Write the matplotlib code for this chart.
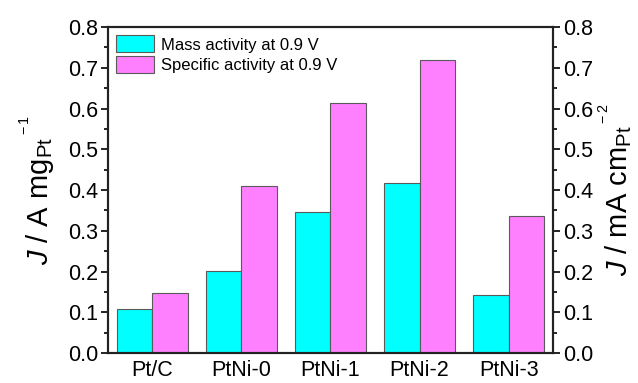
import numpy as np
import matplotlib
matplotlib.use('Agg')
from matplotlib import pyplot as plt
from matplotlib.ticker import MultipleLocator

plt.rcParams['font.family'] = ['Liberation Sans', 'DejaVu Sans']
plt.rcParams['mathtext.fontset'] = 'custom'
plt.rcParams['mathtext.rm'] = 'Liberation Sans'
plt.rcParams['mathtext.it'] = 'Liberation Sans:italic'

categories = ['Pt/C', 'PtNi-0', 'PtNi-1', 'PtNi-2', 'PtNi-3']
mass_activity = [0.108, 0.202, 0.347, 0.418, 0.142]
specific_activity = [0.148, 0.409, 0.613, 0.718, 0.337]

fig = plt.figure(figsize=(6.38, 3.83), dpi=100)
ax = fig.add_axes([0.169, 0.078, 0.698, 0.8515])
x = np.arange(len(categories))
w = 0.4
edge = '#5a5a5a'
ax.bar(x - w / 2, mass_activity, w, color='#00FFFF', edgecolor=edge, linewidth=0.8,
       label='Mass activity at 0.9 V')
ax.bar(x + w / 2, specific_activity, w, color='#FF80FF', edgecolor=edge, linewidth=0.8,
       label='Specific activity at 0.9 V')

ax.set_xlim(-0.5, 4.5)
ax.set_ylim(0, 0.8)
ax.set_xticks(x)
ax.set_xticklabels(categories)
ax.tick_params(axis='x', length=0, labelsize=15.5, pad=5)


def style_y(a):
    a.yaxis.set_major_locator(MultipleLocator(0.1))
    a.yaxis.set_minor_locator(MultipleLocator(0.05))
    a.yaxis.set_major_formatter(plt.FormatStrFormatter('%.1f'))
    a.tick_params(axis='y', which='major', direction='out', length=5, width=1.2,
                  labelsize=15.5, pad=2)
    a.tick_params(axis='y', which='minor', direction='out', length=3, width=1.2)
    for s in a.spines.values():
        s.set_linewidth(1.5)
        s.set_color('#222222')


style_y(ax)
ax.set_ylabel(r'$\it{J}$ / A mg$_{\rm Pt}{}^{{}^{\rm -1}}$', fontsize=21, labelpad=8)

ax2 = ax.twinx()
ax2.set_ylim(0, 0.8)
style_y(ax2)
ax2.set_ylabel(r'$\it{J}$ / mA cm$_{\rm Pt}{}^{{}^{\rm -2}}$', fontsize=21, labelpad=3)

ax.legend(loc='upper left', frameon=False, fontsize=12, handlelength=2.3,
          handleheight=1.2, handletextpad=0.4, labelspacing=0.18,
          borderaxespad=0.2, borderpad=0.3)

fig.savefig('out.png', dpi=100)
